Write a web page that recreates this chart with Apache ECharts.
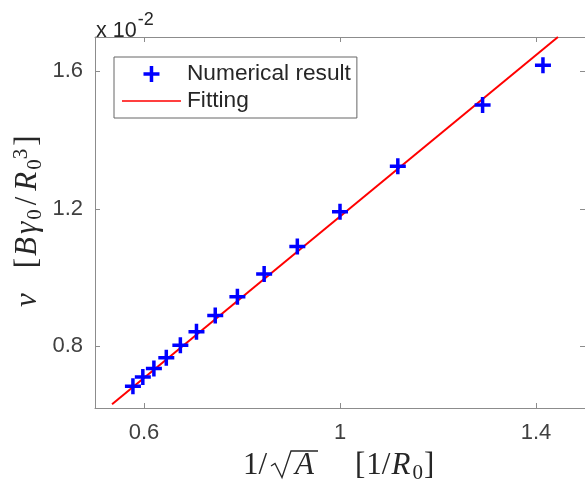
<!DOCTYPE html>
<html><head><meta charset="utf-8">
<script src="https://cdn.jsdelivr.net/npm/echarts@6/dist/echarts.min.js"></script>
<style>html,body{margin:0;padding:0;background:#fff}#c{width:585px;height:487px}</style>
</head><body><div id="c"></div>
<script>
// x = 1/sqrt(A) [1/R0]
const xValues = [0.5774, 0.5976, 0.6202, 0.6455, 0.6742, 0.7071, 0.7454, 0.7906, 0.8452, 0.9129, 1.0, 1.1180, 1.2910, 1.4142];
// v in units of 1e-2 [B*gamma0/R0^3]
const yValues = [0.683, 0.710, 0.735, 0.766, 0.803, 0.842, 0.889, 0.944, 1.010, 1.090, 1.191, 1.324, 1.502, 1.618];
// fitted line endpoints
const fitX = [0.5348, 1.4448];
const fitY = [0.6307, 1.7000];
const xTicks = [0.6, 1, 1.4];
const yTicks = [0.8, 1.2, 1.6];
const xRange = [0.5, 1.5];
const yRange = [0.62, 1.70];
const seriesNames = ['Numerical result', 'Fitting'];

const plus = 'path://M6.25,0H9.75V6.25H16V9.75H9.75V16H6.25V9.75H0V6.25H6.25Z';
const lineIcon = 'path://M0,7.2H59V8.8H0Z M0,0H0.01V0.01H0Z M0,16H0.01V16.01H0Z';
const axisColor = '#8c8c8c';
const labelColor = '#404040';
const textColor = '#262626';
const font = 'Liberation Sans, Arial, Helvetica, sans-serif';
const serif = 'Liberation Serif, Times New Roman, serif';

function axis(pos, range, ticks, showLabels, margin) {
  return {
    type: 'value', position: pos, min: range[0], max: range[1],
    axisLine: {show: true, onZero: false, lineStyle: {color: axisColor, width: 1}},
    axisTick: {show: true, inside: true, length: 5, customValues: ticks, lineStyle: {color: axisColor}},
    axisLabel: {show: showLabels, customValues: ticks, color: labelColor, fontSize: 22, fontFamily: font, margin: margin,
      formatter: v => String(Math.round(v * 10) / 10)},
    splitLine: {show: false}
  };
}

const mathRich = {
  n: {fontSize: 31, fontFamily: serif, fill: textColor},
  nb: {fontSize: 31, fontFamily: serif, fill: textColor, padding: [0, 1, 0, 1]},
  i: {fontSize: 31, fontFamily: serif, fontStyle: 'italic', fill: textColor},
  iy: {fontSize: 31, fontFamily: serif, fontStyle: 'italic', fill: textColor, padding: [0, 2, 0, 1]},
  sl: {fontSize: 31, fontFamily: serif, fill: textColor, padding: [0, 5, 0, 4]},
  s: {fontSize: 21, fontFamily: serif, fill: textColor, padding: [14, 0, 0, 0]},
  sp: {fontSize: 21, fontFamily: serif, fill: textColor, padding: [0, 2, 14, 0]},
  rad: {fontSize: 31, width: 28},
  gx: {fontSize: 31, width: 40},
  gy: {fontSize: 31, width: 24}
};

const chart = echarts.init(document.getElementById('c'), null, {renderer: 'canvas'});
chart.setOption({
  animation: false,
  backgroundColor: '#fff',
  grid: {left: 95, top: 37, right: -1, bottom: 79, containLabel: false},
  xAxis: [axis('bottom', xRange, xTicks, true, 14), axis('top', xRange, xTicks, false, 8)],
  yAxis: [axis('left', yRange, yTicks, true, 12), axis('right', yRange, yTicks, false, 8)],
  legend: {
    orient: 'vertical', left: 114, top: 57,
    padding: [5, 6, 5, 8], itemGap: 3,
    itemWidth: 59, itemHeight: 16,
    borderColor: '#666', borderWidth: 1, backgroundColor: '#fff',
    textStyle: {color: textColor, fontSize: 22.7, fontFamily: font, lineHeight: 24, padding: [0, 0, 0, 1]},
    data: [{name: seriesNames[0], icon: plus}, {name: seriesNames[1], icon: lineIcon}]
  },
  series: [
    {
      name: seriesNames[0], type: 'scatter', symbol: plus, symbolSize: 16, symbolKeepAspect: true,
      itemStyle: {color: '#0000ff', opacity: 1},
      data: xValues.map((x, i) => [x, yValues[i]]), z: 3
    },
    {
      name: seriesNames[1], type: 'line', showSymbol: false, symbol: 'none',
      lineStyle: {color: '#ff0000', width: 2}, itemStyle: {color: '#ff0000'},
      data: fitX.map((x, i) => [x, fitY[i]]), z: 2
    }
  ],
  graphic: [
    {type: 'text', left: 96, top: 11, style: {
      text: '{a|x 10}{b|-2}',
      rich: {a: {fontSize: 21.5, fontFamily: font, fill: textColor, verticalAlign: 'bottom'},
             b: {fontSize: 18, fontFamily: font, fill: textColor, verticalAlign: 'top', padding: [0, 0, 13, 1]}}
    }},
    {type: 'text', x: 243, y: 466, style: {
      text: '{n|1/}{rad| }{i|A}{gx| }{nb|[}{n|1/}{iy|R}{s|0}{nb|]}', align: 'left', verticalAlign: 'middle',
      rich: mathRich
    }},
    {type: 'polyline', shape: {points: [[271, 466], [275, 463.5], [282, 477.5], [291, 451], [318, 451]]},
      style: {stroke: textColor, lineWidth: 1.3, fill: null}},
    {type: 'text', x: 28, y: 307, rotation: Math.PI / 2, style: {
      text: '{i|v}{gy| }{nb|[}{iy|B}{iy|γ}{s|0}{sl|/}{iy|R}{s|0}{sp|3}{nb|]}', align: 'left', verticalAlign: 'middle',
      rich: mathRich
    }}
  ]
});
</script></body></html>
